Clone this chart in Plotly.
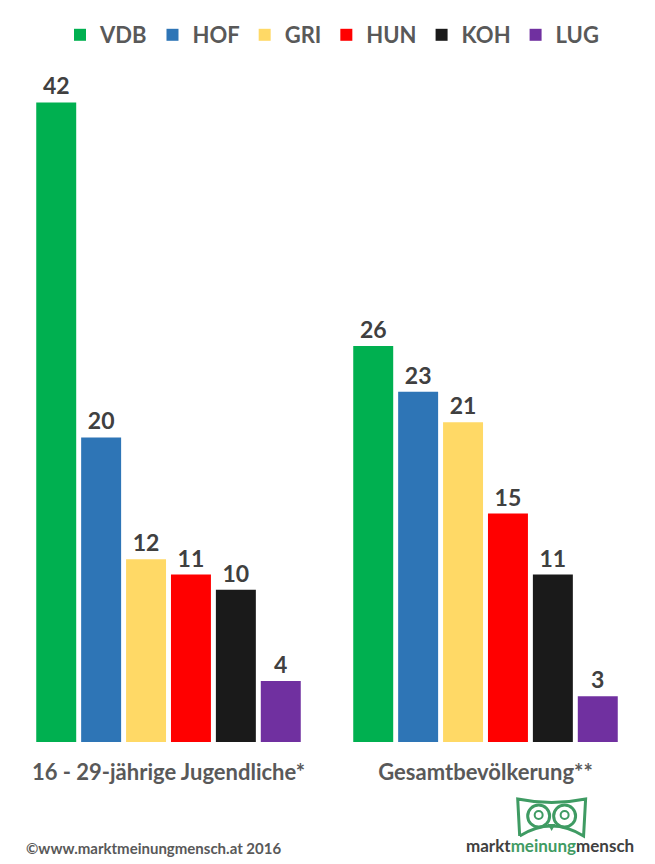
import plotly.graph_objects as go

# Wahlabsicht Bundespräsidentenwahl 2016, Angaben in %
groups = ['16 - 29-jährige Jugendliche*', 'Gesamtbevölkerung**']
candidates = ['VDB', 'HOF', 'GRI', 'HUN', 'KOH', 'LUG']
colors = ['#00B050', '#2E75B6', '#FFD966', '#FF0000', '#1A1A1A', '#7030A0']
vdb = [42, 26]
hof = [20, 23]
gri = [12, 21]
hun = [11, 15]
koh = [10, 11]
lug = [4, 3]
values = [vdb, hof, gri, hun, koh, lug]

W, H = 655, 864
L, R, T, B = 9.5, 10.5, 72, 122
FONT = 'Lato'
GREY = '#595959'
GREEN = '#3F9B63'


def px(x):
    return (x - L) / (W - L - R)


def py(y):
    return (H - B - y) / (H - T - B)


fig = go.Figure()
for name, col, vals in zip(candidates, colors, values):
    fig.add_trace(go.Bar(
        x=groups, y=vals, name='<b>' + name + '</b>',
        marker=dict(color=col, line=dict(width=0)),
        text=vals, texttemplate='<b>%{text}</b>', textposition='outside',
        textfont=dict(size=23, color='#404040', family=FONT), cliponaxis=False))

fig.update_layout(
    width=W, height=H, barmode='group', bargap=0.15, bargroupgap=0.11,
    margin=dict(l=L, r=R, t=T, b=B, autoexpand=False),
    paper_bgcolor='white', plot_bgcolor='white',
    font=dict(family=FONT, color=GREY),
    legend=dict(orientation='h', x=px(332), xanchor='center', y=py(35), yanchor='middle',
                font=dict(size=22, color=GREY, family=FONT), itemwidth=30,
                traceorder='normal'),
    xaxis=dict(showline=False, showgrid=False, ticks='', ticklabelstandoff=15,
               tickfont=dict(size=22, color=GREY, family=FONT),
               tickvals=groups, ticktext=['<b>' + g + '</b>' for g in groups]),
    yaxis=dict(range=[0, 44], visible=False),
)

# footer
fig.add_annotation(text='<b>©www.marktmeinungmensch.at 2016</b>', xref='paper', yref='paper',
                   x=px(24), y=py(848), xanchor='left', yanchor='middle', showarrow=False,
                   font=dict(size=15, color=GREY, family=FONT))
fig.add_annotation(text="<b>markt<span style='color:%s'>meinung</span>mensch</b>" % GREEN,
                   xref='paper', yref='paper', x=px(550), y=py(845), xanchor='center',
                   yanchor='middle', showarrow=False,
                   font=dict(size=17, color='#404040', family=FONT))

# owl logo (rough)
owl = dict(type='path', xref='paper', yref='paper', line=dict(color=GREEN, width=3))
path = 'M {:.4f} {:.4f}'.format(px(520), py(836))
path += ' L {:.4f} {:.4f}'.format(px(518), py(799))
path += ' Q {:.4f} {:.4f} {:.4f} {:.4f}'.format(px(552), py(806), px(586), py(799))
path += ' L {:.4f} {:.4f}'.format(px(584), py(836))
path += ' Q {:.4f} {:.4f} {:.4f} {:.4f}'.format(px(552), py(816), px(520), py(836))
fig.add_shape(path=path, **owl)
for cx in (539, 565):
    fig.add_shape(type='circle', xref='paper', yref='paper',
                  x0=px(cx - 11), x1=px(cx + 11), y0=py(805), y1=py(827),
                  line=dict(color=GREEN, width=3))
    fig.add_shape(type='circle', xref='paper', yref='paper',
                  x0=px(cx - 4), x1=px(cx + 4), y0=py(811), y1=py(819),
                  line=dict(color=GREEN, width=2))
fig.add_shape(type='path', xref='paper', yref='paper', fillcolor=GREEN, line=dict(width=0),
              path='M {:.4f} {:.4f} L {:.4f} {:.4f} L {:.4f} {:.4f} Z'.format(
                  px(548), py(824), px(556), py(824), px(552), py(831)))

# page has a default body margin; drop it so the figure sits at (0, 0)
fig.write_html('out.html', config={'displayModeBar': False},
               post_script="document.body.style.margin='0';")
